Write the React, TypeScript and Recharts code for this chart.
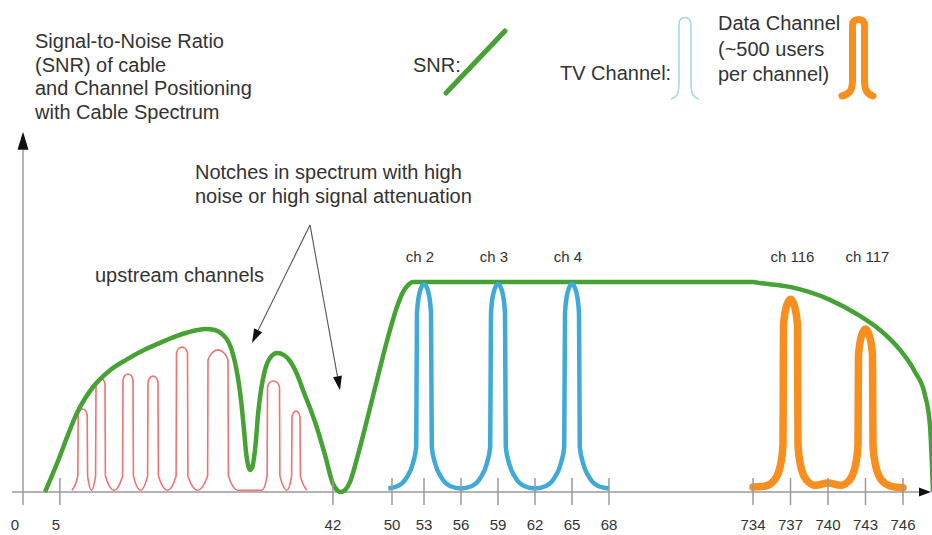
import React from 'react';
import { ComposedChart, Line, XAxis, YAxis, ReferenceLine, ReferenceDot } from 'recharts';

const FONT = '"Liberation Sans", Arial, Helvetica, sans-serif';
const TEXT = '#333333';
const AXIS = '#9a9a9a';
const GREEN = '#46a234';
const BLUE = '#3faad8';
const ORANGE = '#f78e1e';
const RED = '#f07272';

// broken frequency axis: [MHz, axis units]
const axisBreaks: [number, number][] = [
  [0, 0], [50, 369], [53, 401], [68, 586], [734, 730], [746, 880],
];

const tickFreqs = [0, 5, 42, 50, 53, 56, 59, 62, 65, 68, 734, 737, 740, 743, 746];

// [MHz, level]
const snrCurve: [number, number][] = [
  [2.98, 0], [3.93, 4.7], [5.01, 10.3], [6.1, 16.4], [7.32, 22.6], [8.4, 26.7], [9.49, 30.0],
  [11.79, 34.8], [14.09, 37.9], [16.53, 40.7], [18.56, 42.6], [20.87, 44.6], [23.04, 46.0],
  [24.66, 46.6], [26.02, 46.3], [27.1, 44.9], [27.91, 42.6], [28.59, 38.3], [29.13, 32.6],
  [29.54, 26.3], [29.95, 17.7], [30.22, 11.4], [30.49, 7.7], [30.76, 6.3], [31.03, 6.9],
  [31.3, 9.7], [31.57, 14.9], [31.84, 22.0], [32.25, 29.1], [32.79, 34.9], [33.47, 38.3],
  [34.42, 39.7], [35.37, 39.1], [36.18, 37.4], [37.13, 33.7], [37.94, 29.1], [38.89, 24.0],
  [39.84, 18.3], [40.92, 10.6], [42.01, 2.3], [42.55, 0.6], [42.95, 0], [43.63, 0.6],
  [44.31, 2.9], [45.39, 10.6], [46.34, 18.3], [47.02, 24.0], [48.37, 35.4], [49.73, 46.3],
  [50.47, 52.9], [51.03, 57.1], [51.5, 59.1], [51.97, 60], [53, 60], [68, 60], [734, 60],
  [734.56, 59.7], [736.96, 58.6], [740.16, 54.9], [742.56, 50.3], [744.16, 46.3],
  [745.76, 40.6], [746.96, 34.3], [747.76, 27.7], [748.16, 19], [748.4, 0],
];

const upstreamChannels: [number, number][] = [
  [6.64, 0.5],
  [7.425, 4.6], [7.48, 22.0], [7.724, 23.3], [8.089, 23.7], [8.455, 23.3], [8.699, 22.0], [8.753, 4.6],
  [9.282, 0.5],
  [9.837, 4.6], [9.892, 30.9], [10.136, 32.1], [10.501, 32.6], [10.867, 32.1], [11.111, 30.9], [11.165, 4.6],
  [12.331, 0.5],
  [13.496, 4.6], [13.55, 32.0], [13.821, 33.3], [14.228, 33.7], [14.634, 33.3], [14.905, 32.0], [14.959, 4.6],
  [15.921, 0.5],
  [16.883, 4.6], [16.938, 31.4], [17.209, 32.7], [17.615, 33.1], [18.022, 32.7], [18.293, 31.4], [18.347, 4.6],
  [19.58, 0.5],
  [20.745, 4.6], [20.799, 39.7], [21.098, 41.0], [21.545, 41.4], [21.992, 41.0], [22.29, 39.7], [22.344, 4.6],
  [23.645, 0.5],
  [25.014, 4.6], [25.068, 37.7], [25.61, 39.7], [26.423, 40.6], [27.236, 39.7], [27.778, 37.7], [27.832, 4.6],
  [29.133, 0.5], [32.385, 0.5],
  [33.076, 4.6], [33.13, 30.0], [33.455, 31.3], [33.943, 31.7], [34.431, 31.3], [34.756, 30.0], [34.81, 4.6],
  [35.772, 0.5],
  [36.396, 4.6], [36.45, 21.4], [36.667, 22.7], [36.992, 23.1], [37.317, 22.7], [37.534, 21.4], [37.588, 4.6],
  [38.482, 0.5],
];

const tvChannels: [number, number][] = [
  [49.5, 1.0], [50.56, 1.7], [51.41, 4.3], [51.97, 8.3], [52.27, 12.9], [52.34, 51.1], [52.58, 56.9],
  [53, 59.4],
  [53.365, 56.9], [53.568, 51.1], [53.632, 12.9], [53.892, 8.3], [54.378, 4.3], [55.108, 1.7],
  [56, 1.0],
  [56.892, 1.7], [57.622, 4.3], [58.108, 8.3], [58.368, 12.9], [58.432, 51.1], [58.635, 56.9],
  [59, 59.4],
  [59.365, 56.9], [59.568, 51.1], [59.632, 12.9], [59.892, 8.3], [60.378, 4.3], [61.108, 1.7],
  [62, 1.0],
  [62.892, 1.7], [63.622, 4.3], [64.108, 8.3], [64.368, 12.9], [64.432, 51.1], [64.635, 56.9],
  [65, 59.4],
  [65.365, 56.9], [65.568, 51.1], [65.632, 12.9], [65.892, 8.3], [66.378, 4.3], [67.108, 1.7],
  [68, 1.0],
];

const dataChannels: [number, number][] = [
  [734, 1.4], [735.0, 1.7], [735.72, 3.4], [736.2, 7.7], [736.4, 13.4], [736.44, 47.7], [736.68, 53.1],
  [737, 55.1],
  [737.32, 53.1], [737.56, 47.7], [737.6, 13.4], [737.8, 7.7], [738.28, 3.4], [739.0, 1.9],
  [740, 2.6],
  [741.0, 1.9], [741.72, 3.4], [742.2, 7.7], [742.4, 13.4], [742.44, 39.1], [742.68, 44.6],
  [743, 46.6],
  [743.32, 44.6], [743.56, 39.1], [743.6, 13.4], [743.8, 7.7], [744.28, 3.4], [745.0, 1.7],
  [746, 1.2],
];

const channelLabels: [string, number][] = [
  ['ch 2', 53], ['ch 3', 59], ['ch 4', 65], ['ch 116', 737], ['ch 117', 743],
];

// annotation arrows: from [MHz, level] to [MHz, level]
const notchArrows: [number, number][][] = [
  [[38.89, 76.3], [31.03, 42.6]],
  [[38.89, 76.3], [42.95, 29.1]],
];

const toPos = (f: number) => {
  const b = axisBreaks;
  if (f <= b[0][0]) return b[0][1] + (f - b[0][0]) * ((b[1][1] - b[0][1]) / (b[1][0] - b[0][0]));
  for (let i = 1; i < b.length; i++) {
    if (f <= b[i][0]) {
      const [f0, p0] = b[i - 1];
      const [f1, p1] = b[i];
      return p0 + ((f - f0) * (p1 - p0)) / (f1 - f0);
    }
  }
  const [f0, p0] = b[b.length - 2];
  const [f1, p1] = b[b.length - 1];
  return p1 + ((f - f1) * (p1 - p0)) / (f1 - f0);
};

const toRows = (pts: [number, number][]) => pts.map(([f, v]) => ({ x: toPos(f), v }));

const tickPositions = tickFreqs.map(toPos);

const FreqTick = (props: any) => {
  const { x, y, payload } = props;
  const i = tickPositions.findIndex((p) => Math.abs(p - payload.value) < 0.01);
  const label = tickFreqs[i];
  const dx = label === 0 ? -8 : label === 5 ? -4 : 0;
  return (
    <g>
      {label !== 0 && <line x1={x} x2={x} y1={y - 14} y2={y + 13} stroke={AXIS} strokeWidth={1.5} />}
      <text x={x + dx} y={y + 38} textAnchor="middle" fontSize={15} fill={TEXT} fontFamily={FONT}>
        {label}
      </text>
    </g>
  );
};

const arrowShape = (len: number, half: number, color: string, width: number) => (p: any) => {
  const { x1, y1, x2, y2 } = p;
  const a = Math.atan2(y2 - y1, x2 - x1);
  const bx = x2 - len * Math.cos(a);
  const by = y2 - len * Math.sin(a);
  const nx = -Math.sin(a) * half;
  const ny = Math.cos(a) * half;
  return (
    <g>
      <line x1={x1} y1={y1} x2={bx} y2={by} stroke={color} strokeWidth={width} />
      <polygon points={`${x2},${y2} ${bx + nx},${by + ny} ${bx - nx},${by - ny}`} fill="#111" />
    </g>
  );
};

const Overlay = () => (
  <svg
    width={932}
    height={535}
    style={{ position: 'absolute', left: 0, top: 0, pointerEvents: 'none' }}
    fontFamily={FONT}
  >
    <g fontSize={20} fill={TEXT}>
      <text x={35} y={48}>Signal-to-Noise Ratio</text>
      <text x={35} y={71.5}>(SNR) of cable</text>
      <text x={35} y={95}>and Channel Positioning</text>
      <text x={35} y={118.5}>with Cable Spectrum</text>

      <text x={195} y={179}>Notches in spectrum with high</text>
      <text x={195} y={203}>noise or high signal attenuation</text>
      <text x={95} y={282}>upstream channels</text>

      <text x={413} y={72}>SNR:</text>
      <text x={560} y={80}>TV Channel:</text>
      <text x={718} y={30}>Data Channel</text>
      <text x={718} y={56}>(~500 users</text>
      <text x={718} y={81}>per channel)</text>
    </g>
    <line x1={446} y1={93} x2={505} y2={31} stroke={GREEN} strokeWidth={5} strokeLinecap="round" />
    <path
      d="M671,99 C678,97 679,92 679,82 L679,25 C679,19.5 682,17.5 685,17.5 C688,17.5 691,19.5 691,25 L691,82 C691,92 692,97 699,99"
      fill="none"
      stroke="#a7d8ec"
      strokeWidth={1.6}
    />
    <path
      d="M842,96 C850,94 852.5,90 852.5,80 L852.5,26 C852.5,21 855,19.5 858.5,19.5 C862,19.5 864.5,21 864.5,26 L864.5,80 C864.5,90 867,94 873,96"
      fill="none"
      stroke={ORANGE}
      strokeWidth={7}
      strokeLinecap="round"
    />
  </svg>
);

export default function App() {
  return (
    <div style={{ position: 'absolute', left: 0, top: 0, width: 932, height: 535, background: '#fff', overflow: 'hidden' }}>
      <ComposedChart width={932} height={535} margin={{ top: 128, right: -1, bottom: 0, left: 12 }}>
        <XAxis
          type="number"
          dataKey="x"
          domain={[-11, 910]}
          ticks={tickPositions}
          interval={0}
          height={43}
          axisLine={false}
          tickLine={false}
          tickSize={0}
          tickMargin={0}
          tick={<FreqTick />}
        />
        <YAxis type="number" domain={[0, 104]} hide />

        <ReferenceLine
          segment={[{ x: -11, y: 0 }, { x: 908, y: 0 }]}
          ifOverflow="visible"
          shape={arrowShape(12, 4.5, AXIS, 1.5)}
        />
        <ReferenceLine
          segment={[{ x: 0, y: -3.7 }, { x: 0, y: 102.9 }]}
          ifOverflow="visible"
          shape={arrowShape(18, 5.5, AXIS, 1.5)}
        />

        <Line data={toRows(upstreamChannels)} dataKey="v" type="monotone" stroke={RED} strokeWidth={1.6}
          dot={false} activeDot={false} isAnimationActive={false} />
        <Line data={toRows(snrCurve)} dataKey="v" type="monotone" stroke={GREEN} strokeWidth={4.5}
          dot={false} activeDot={false} isAnimationActive={false} />
        <Line data={toRows(tvChannels)} dataKey="v" type="monotone" stroke={BLUE} strokeWidth={4.5}
          dot={false} activeDot={false} isAnimationActive={false} />
        <Line data={toRows(dataChannels)} dataKey="v" type="monotone" stroke={ORANGE} strokeWidth={7.5}
          strokeLinecap="round" dot={false} activeDot={false} isAnimationActive={false} />

        {notchArrows.map(([a, b], i) => (
          <ReferenceLine
            key={`arrow-${i}`}
            segment={[{ x: toPos(a[0]), y: a[1] }, { x: toPos(b[0]), y: b[1] }]}
            ifOverflow="visible"
            shape={arrowShape(14, 4.5, '#555', 1.1)}
          />
        ))}

        {channelLabels.map(([name, f]) => (
          <ReferenceDot
            key={name}
            x={toPos(f)}
            y={65.7}
            r={0}
            ifOverflow="visible"
            shape={(p: any) => (
              <text x={p.cx + (f < 100 ? -4 : 2)} y={p.cy} textAnchor="middle" fontSize={15} fill={TEXT} fontFamily={FONT}>
                {name}
              </text>
            )}
          />
        ))}
      </ComposedChart>
      <Overlay />
    </div>
  );
}
